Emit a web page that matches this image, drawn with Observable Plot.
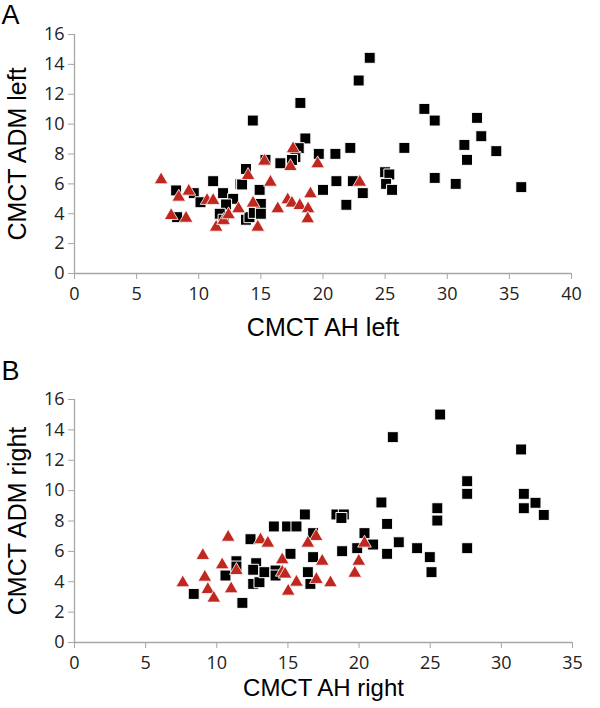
<!DOCTYPE html>
<html>
<head>
<meta charset="utf-8">
<script src="https://cdn.jsdelivr.net/npm/d3@7"></script>
<script src="https://cdn.jsdelivr.net/npm/@observablehq/plot@0.6"></script>
<style>
  body { margin: 0; background: #fff; }
  #wrap { position: relative; width: 600px; height: 708px; }
  #a, #b { position: absolute; left: 0; }
  #a { top: 0; }
  #b { top: 355px; }
</style>
</head>
<body>
<div id="wrap"><div id="a"></div><div id="b"></div></div>
<script>
// Panel A: left side (CMCT AH left vs CMCT ADM left)
const squaresA = [
  [14.35,10.24],[8.18,5.56],[8.26,3.77],[9.6,5.38],[10.14,4.77],[11.16,6.18],[11.96,5.38],[12.77,5.0],
  [12.2,4.62],[11.69,4.0],[12.0,3.6],[13.36,6.0],[13.8,7.0],[13.8,3.6],[14.08,3.77],[14.43,4.06],
  [14.9,5.6],[23.76,14.44],[22.87,12.92],[18.18,11.42],[18.58,9.04],[18.05,8.39],[17.78,7.79],[17.5,7.6],
  [16.57,7.38],[15.37,7.61],[13.49,5.96],[15.0,4.66],[15.0,4.0],[19.66,8.01],[21.0,8.01],[22.2,8.41],
  [20.0,5.6],[21.08,6.18],[22.4,6.18],[23.2,5.38],[21.88,4.6],[25.0,6.78],[25.34,6.63],[25.08,6.0],
  [25.56,5.6],[26.55,8.41],[28.16,11.02],[28.99,10.24],[28.99,6.4],[32.4,10.42],[32.74,9.19],[31.38,8.61],
  [33.95,8.19],[31.59,7.61],[30.68,6.0],[35.96,5.78]
];
const trianglesA = [
  [6.97,6.27],[7.78,3.88],[8.39,5.11],[8.98,3.70],[9.2,5.51],[10.67,4.89],[11.16,4.89],[11.4,3.1],
  [12.0,3.55],[12.4,3.93],[13.2,4.33],[13.97,6.56],[14.37,4.71],[14.75,3.1],[17.59,8.35],[15.29,7.52],
  [17.38,7.16],[19.57,7.34],[15.77,6.11],[18.99,5.33],[22.96,6.11],[17.16,4.93],[17.5,4.71],[18.13,4.55],
  [16.36,4.33],[18.8,4.33],[18.77,3.66]
];
// Panel B: right side
const squaresB = [
  [8.38,3.2],[10.61,4.41],[11.8,2.61],[12.37,6.8],[11.38,5.35],[11.38,5.0],[12.77,5.22],[12.56,4.79],
  [12.56,3.86],[13.0,3.97],[13.35,4.63],[14.13,4.74],[14.13,4.41],[22.37,13.52],[25.7,15.01],[14.01,7.64],
  [14.94,7.64],[15.6,7.64],[16.19,8.43],[18.41,8.43],[18.93,8.43],[18.76,8.2],[21.57,9.22],[21.97,7.81],
  [25.5,8.84],[25.5,8.03],[16.77,7.2],[15.18,5.84],[16.77,5.62],[18.81,6.01],[20.38,7.2],[19.87,6.21],
  [20.99,6.45],[22.79,6.6],[21.97,5.84],[24.08,6.21],[24.97,5.62],[25.09,4.63],[16.4,4.63],[16.58,3.86],
  [31.39,12.71],[27.6,10.62],[27.6,9.79],[31.58,9.79],[32.4,9.2],[31.58,8.84],[32.98,8.4],[27.6,6.21]
];
const trianglesB = [
  [7.61,3.93],[9.02,5.73],[9.16,4.3],[9.37,3.49],[9.79,2.92],[10.38,5.11],[10.8,6.93],[11.01,3.53],
  [11.38,4.74],[13.07,6.76],[13.59,6.54],[16.98,6.98],[16.4,6.54],[14.6,5.44],[14.6,4.63],[14.8,4.5],
  [15.6,3.97],[15.02,3.38],[17.0,4.15],[17.41,5.35],[17.99,3.93],[19.7,4.56],[19.98,5.35],[20.38,6.54]
];
const xTicksA = [0,5,10,15,20,25,30,35,40];
const xTicksB = [0,5,10,15,20,25,30,35];
const yTicks = [0,2,4,6,8,10,12,14,16];

const AXIS = "#a6a6a6";
const RED = "#c0271f";

function panel({squares, triangles, xTicks, xMax, xLabel, yLabel, letter, height, mt, mb, mr, titleDy, titleSize, letterTop}) {
  return Plot.plot({
    width: 600, height,
    marginLeft: 74, marginRight: mr, marginTop: mt, marginBottom: mb,
    style: {fontFamily: "'Open Sans', sans-serif", background: "#fff", overflow: "visible"},
    x: {domain: [0, xMax], label: null},
    y: {domain: [0, 16], label: null},
    marks: [
      Plot.ruleY([0], {stroke: AXIS, strokeWidth: 1.3}),
      Plot.ruleX([0], {stroke: AXIS, strokeWidth: 1.3}),
      Plot.axisX({ticks: xTicks, tickSize: 6, tickPadding: 8, stroke: AXIS, fill: "#222", fontSize: 18, label: null, tickFormat: d => String(d)}),
      Plot.axisY({ticks: yTicks, tickSize: 6, tickPadding: 4, stroke: AXIS, fill: "#222", fontSize: 18, label: null, tickFormat: d => String(d)}),
      Plot.dot(squares, {x: d => d[0], y: d => d[1], symbol: "square", r: 6.2, fill: "#000", stroke: "#fff", strokeWidth: 1}),
      Plot.dot(triangles, {x: d => d[0], y: d => d[1], symbol: "triangle", r: 5.1, fill: RED, stroke: "#fff", strokeWidth: 0.8}),
      Plot.text([xLabel], {frameAnchor: "bottom", dy: titleDy, text: d => d, fontSize: titleSize, fontFamily: "'Liberation Sans', Arial, sans-serif", fill: "#000", textAnchor: "middle", lineAnchor: "middle"}),
      Plot.text([yLabel], {frameAnchor: "left", dx: -57, rotate: -90, text: d => d, fontSize: 25, fontFamily: "'Liberation Sans', Arial, sans-serif", fill: "#000", textAnchor: "middle", lineAnchor: "middle"}),
      Plot.text([letter], {frameAnchor: "top-left", dx: -73, dy: -mt + letterTop, text: d => d, fontSize: 27, fontFamily: "'Liberation Sans', Arial, sans-serif", fill: "#000", textAnchor: "start", lineAnchor: "top"})
    ]
  });
}

document.getElementById("a").appendChild(panel({
  squares: squaresA, triangles: trianglesA, xTicks: xTicksA, xMax: 40,
  xLabel: "CMCT AH left", yLabel: "CMCT ADM left", letter: "A",
  height: 350, mt: 34, mb: 77, mr: 29, titleDy: 54, titleSize: 25, letterTop: 4
}));
document.getElementById("b").appendChild(panel({
  squares: squaresB, triangles: trianglesB, xTicks: xTicksB, xMax: 35,
  xLabel: "CMCT AH right", yLabel: "CMCT ADM right", letter: "B",
  height: 353, mt: 44, mb: 66, mr: 28, titleDy: 46, titleSize: 24, letterTop: 5
}));
</script>
</body>
</html>
